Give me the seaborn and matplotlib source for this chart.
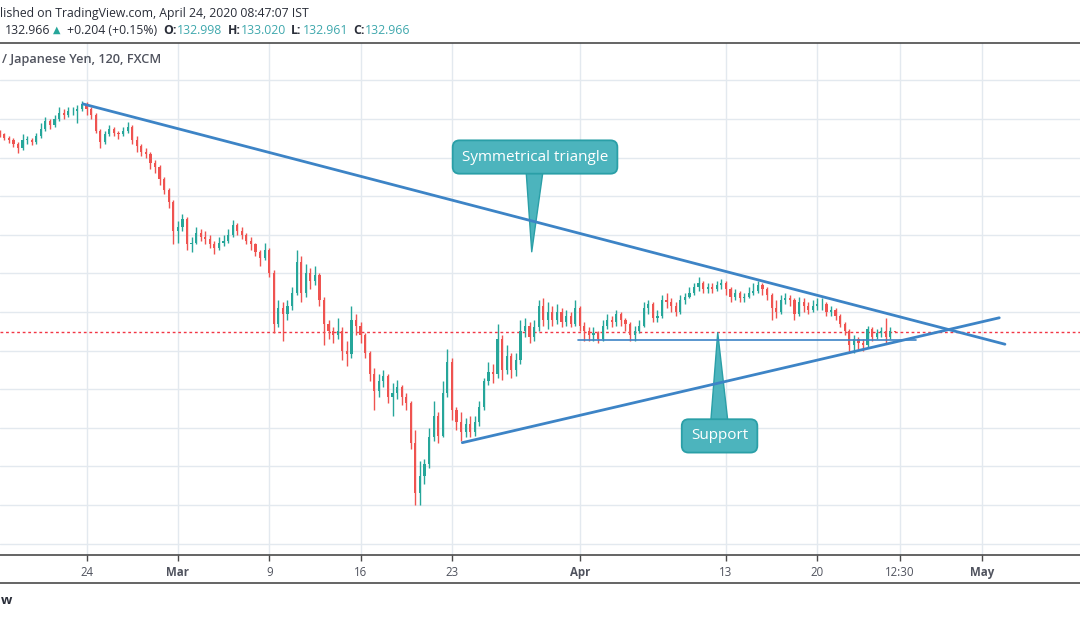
import numpy as np
import matplotlib
matplotlib.use("Agg")
import matplotlib.pyplot as plt
from matplotlib.lines import Line2D
import seaborn as sns

# ---------------- data (GBP/JPY, 6h resolution) ----------------
first_open = 143.3
close = [143.2, 143.0, 142.9, 142.7, 142.5, 142.9, 142.9, 142.8, 143.1, 143.5,
         143.9, 143.7, 144.0, 144.3, 144.2, 144.4, 144.4, 144.5, 144.8, 144.5,
         144.2, 143.4, 142.8, 143.2, 143.5, 143.3, 143.2, 143.4, 143.6, 142.9,
         142.6, 142.3, 142.2, 141.7, 141.5, 140.9, 140.3, 139.7, 138.2, 138.4,
         138.8, 137.5, 137.6, 138.1, 137.9, 137.8, 137.5, 137.3, 137.6, 137.7,
         138.0, 138.5, 138.2, 138.0, 137.7, 137.5, 137.1, 136.8, 137.2, 136.0,
         133.4, 134.2, 133.9, 134.3, 135.0, 136.6, 135.0, 136.0, 135.6, 135.9,
         134.6, 133.4, 133.0, 132.8, 133.0, 132.0, 131.8, 133.6, 133.3, 132.8,
         131.9, 130.8, 129.9, 130.4, 130.7, 129.6, 129.8, 130.1, 129.6, 129.3,
         127.2, 124.6, 125.5, 126.1, 127.5, 128.6, 127.6, 129.8, 131.4, 128.9,
         128.3, 127.8, 128.2, 127.8, 128.3, 129.1, 130.4, 130.9, 130.8, 132.6,
         131.0, 131.7, 131.0, 131.5, 133.0, 133.3, 132.7, 133.2, 134.3, 133.6,
         134.0, 133.6, 134.0, 133.5, 133.8, 133.4, 134.2, 133.3, 133.0, 132.8,
         132.9, 132.6, 133.3, 133.6, 133.5, 133.9, 133.6, 133.4, 132.8, 133.0,
         133.3, 134.2, 134.4, 133.7, 133.8, 134.6, 134.5, 134.3, 134.0, 134.6,
         134.8, 135.0, 135.3, 135.5, 135.2, 135.3, 135.2, 135.4, 135.5, 135.2,
         134.8, 135.0, 134.7, 134.8, 135.0, 135.1, 135.4, 135.2, 134.9, 134.2,
         134.0, 134.6, 134.7, 134.6, 133.9, 134.5, 134.3, 134.1, 134.3, 134.4,
         134.4, 134.0, 134.1, 133.8, 133.4, 133.0, 132.3, 132.6, 132.4, 132.3,
         133.1, 132.7, 132.9, 133.0, 132.7, 133.0, 132.966]
high = [143.45, 143.3, 143.1, 143.0, 142.8, 143.2, 143.1, 143.0, 143.3, 143.8,
        144.1, 144.0, 144.2, 144.6, 144.5, 144.6, 144.6, 144.7, 144.95, 144.9,
        144.6, 144.3, 143.5, 143.4, 143.7, 143.6, 143.4, 143.6, 143.85, 143.7,
        143.1, 142.7, 142.5, 142.3, 141.9, 141.6, 141.0, 140.4, 139.8, 138.7,
        139.1, 138.9, 137.9, 138.4, 138.3, 138.2, 138.0, 137.7, 137.9, 138.0,
        138.3, 138.75, 138.6, 138.4, 138.1, 137.9, 137.6, 137.2, 137.6, 137.3,
        136.2, 134.6, 134.5, 134.6, 135.3, 137.2, 136.9, 136.5, 136.3, 136.4,
        136.0, 134.8, 133.6, 133.2, 133.7, 133.2, 132.5, 134.3, 133.9, 133.5,
        132.9, 132.0, 131.1, 130.8, 131.0, 130.8, 130.3, 130.5, 130.2, 129.8,
        129.4, 127.9, 126.3, 126.4, 128.0, 129.4, 128.8, 130.4, 132.1, 131.6,
        129.1, 128.8, 128.5, 128.6, 128.6, 129.4, 130.6, 131.4, 131.3, 133.4,
        132.8, 132.3, 131.9, 131.9, 133.6, 133.7, 133.5, 133.6, 134.6, 134.7,
        134.5, 134.3, 134.4, 134.2, 134.1, 134.0, 134.6, 134.3, 133.5, 133.2,
        133.2, 133.0, 133.6, 133.9, 133.8, 134.1, 134.0, 133.7, 133.5, 133.3,
        133.6, 134.5, 134.6, 134.5, 134.1, 134.9, 135.0, 134.7, 134.5, 134.9,
        135.0, 135.3, 135.5, 135.8, 135.6, 135.5, 135.5, 135.6, 135.7, 135.6,
        135.3, 135.2, 135.1, 135.0, 135.3, 135.5, 135.6, 135.5, 135.3, 135.0,
        134.6, 134.9, 135.0, 134.9, 134.7, 134.8, 134.7, 134.5, 134.6, 134.7,
        134.7, 134.5, 134.3, 134.2, 133.9, 133.5, 133.1, 132.8, 132.7, 132.6,
        133.3, 133.2, 133.1, 133.2, 133.7, 133.2, 133.02]
low = [143.05, 142.9, 142.75, 142.55, 142.25, 142.4, 142.7, 142.65, 142.7, 143.0,
       143.4, 143.5, 143.6, 143.9, 144.0, 144.1, 144.2, 143.8, 144.4, 144.2,
       144.0, 143.3, 142.5, 142.7, 143.1, 143.1, 142.95, 143.1, 143.3, 142.7,
       142.3, 142.1, 142.0, 141.4, 141.2, 140.6, 140.1, 139.4, 137.5, 137.6,
       138.2, 137.2, 137.1, 137.5, 137.7, 137.5, 137.3, 137.0, 137.2, 137.4,
       137.6, 137.9, 138.0, 137.8, 137.5, 137.2, 136.9, 136.4, 136.7, 135.8,
       132.9, 133.2, 132.5, 133.6, 134.1, 134.9, 134.5, 134.8, 135.2, 135.4,
       134.3, 132.3, 132.6, 132.4, 132.6, 131.5, 131.2, 131.6, 132.8, 132.4,
       131.6, 130.4, 128.9, 129.6, 130.1, 129.3, 128.6, 129.5, 129.2, 128.9,
       126.9, 124.0, 124.0, 125.1, 125.9, 127.3, 127.2, 127.5, 129.6, 128.4,
       127.9, 127.3, 127.5, 127.5, 127.6, 128.1, 128.9, 130.2, 130.3, 130.6,
       130.5, 130.8, 130.6, 130.7, 131.3, 132.7, 132.4, 132.5, 133.0, 133.3,
       133.1, 133.3, 133.4, 133.2, 133.3, 133.2, 133.3, 133.0, 132.5, 132.5,
       132.5, 132.4, 132.5, 133.1, 133.2, 133.3, 133.3, 133.0, 132.5, 132.5,
       132.9, 133.2, 133.9, 133.5, 133.5, 133.7, 134.2, 134.0, 133.8, 133.9,
       134.4, 134.7, 134.9, 135.1, 135.0, 135.0, 135.0, 135.1, 135.2, 134.9,
       134.5, 134.6, 134.5, 134.5, 134.7, 134.9, 135.0, 134.9, 134.6, 133.6,
       133.7, 133.9, 134.4, 134.3, 133.6, 133.8, 134.0, 133.9, 134.0, 134.1,
       134.1, 133.8, 133.8, 133.6, 133.2, 132.8, 131.9, 131.9, 132.1, 132.0,
       132.2, 132.5, 132.6, 132.7, 132.4, 132.6, 132.96]
start_day = -4.75      # trading days relative to Mon 24 Feb 2020
bar_step = 0.25        # 6-hour bars

tick_days = [0, 5, 10, 15, 20, 27, 35, 40, 44.5, 49]
tick_labels = ["24", "Mar", "9", "16", "23", "Apr", "13", "20", "12:30", "May"]
month_labels = ["Mar", "Apr", "May"]

last_price = 132.966
resistance_days = [-0.19, 50.27]
resistance_prices = [144.78, 132.33]
trend_support_days = [20.57, 49.96]
trend_support_prices = [127.23, 133.70]
hsupport_days = [26.92, 45.40]
hsupport_price = 132.55

callout_texts = ["Symmetrical triangle", "Support"]
callout_text_pos = [(24.55, 142.03), (34.65, 127.58)]
callout_tip_pos = [(24.37, 137.12), (34.55, 132.93)]

header_line1 = "lished on TradingView.com, April 24, 2020 08:47:07 IST"
symbol_label = "/ Japanese Yen, 120, FXCM"
quote_parts = [("132.966", "dark", "normal"), ("\u25B2", "up", "normal"),
               ("+0.204 (+0.15%)", "dark", "normal"), ("O:", "dark", "bold"),
               ("132.998", "num", "normal"), ("H:", "dark", "bold"),
               ("133.020", "num", "normal"), ("L:", "dark", "bold"),
               ("132.961", "num", "normal"), ("C:", "dark", "bold"),
               ("132.966", "num", "normal")]
quote_part_x = [5, 53, 67, 163, 177, 228, 241, 291, 303, 353, 365]

# ---------------- style ----------------
sns.set_theme(style="white")
plt.rcParams["font.family"] = ["Open Sans", "DejaVu Sans"]

UP = "#26a69a"
DOWN = "#ef5350"
LINE = "#3d84c6"
GRID = "#e3e9ef"
AXIS = "#4a4a4a"
TXT = "#50535e"
DARK = "#2a2e39"
NUM = "#3fa8ad"
CALL_FC = "#4cb4bd"
CALL_EC = "#2a9fa7"

W, H = 1080, 618
fig = plt.figure(figsize=(W / 100, H / 100), dpi=100)
fig.patch.set_facecolor("white")

pane_top, pane_bot = 43, 554.5
ax = fig.add_axes([0, 1 - pane_bot / H, 1, (pane_bot - pane_top) / H])
ax.set_facecolor("white")

x_left, x_right = (0 - 86.5) / 18.27, (W - 86.5) / 18.27
ax.set_xlim(x_left, x_right)
ax.set_ylim(134 - (pane_bot - 312) / 19.3, 134 + (312 - pane_top) / 19.3)

# candles
o = np.array([first_open] + close[:-1])
c = np.array(close)
hi = np.array(high)
lo = np.array(low)
days = start_day + bar_step * np.arange(len(c))
cols = np.where(c >= o, UP, DOWN)
ax.vlines(days, lo, hi, colors=cols, lw=1.0, zorder=3)
body_bottom = np.minimum(o, c)
body_h = np.maximum(np.abs(c - o), 0.04)
ax.bar(days, body_h, bottom=body_bottom, width=0.12, color=cols,
       edgecolor="none", zorder=3)

# last price dotted line
ax.axhline(last_price, color="#f23645", lw=1.0, ls=(0, (2, 2)), zorder=2.5)

# trend lines (seaborn)
sns.lineplot(x=resistance_days, y=resistance_prices, ax=ax, color=LINE, lw=2.0,
             zorder=5)
sns.lineplot(x=trend_support_days, y=trend_support_prices, ax=ax, color=LINE,
             lw=2.0, zorder=5)
sns.lineplot(x=hsupport_days, y=[hsupport_price, hsupport_price], ax=ax,
             color=LINE, lw=1.2, zorder=5)

# callouts
for txt, tpos, tip in zip(callout_texts, callout_text_pos, callout_tip_pos):
    ax.annotate(txt, xy=tip, xytext=tpos, xycoords="data", textcoords="data",
                ha="center", va="center", color="white", fontsize=11,
                zorder=4,
                bbox=dict(boxstyle="round,pad=0.6,rounding_size=0.45",
                          fc=CALL_FC, ec=CALL_EC, lw=1.3),
                arrowprops=dict(arrowstyle="wedge,tail_width=1.3,shrink_factor=0.5",
                                fc=CALL_FC, ec=CALL_EC, lw=1.0, patchA=None,
                                shrinkA=0, shrinkB=0))

# grid, ticks, spines
ax.set_yticks(np.arange(122, 148, 2))
ax.set_xticks(tick_days)
ax.set_xticklabels(tick_labels)
for lab in ax.get_xticklabels():
    if lab.get_text() in month_labels:
        lab.set_fontweight("bold")
ax.grid(True, color=GRID, lw=1.0, zorder=0)
ax.set_axisbelow(True)
ax.tick_params(axis="y", left=False, labelleft=False, right=False)
ax.tick_params(axis="x", bottom=True, length=4, width=1, color=AXIS, pad=4.5,
               labelsize=8.3, labelcolor=TXT)
for s in ["left", "right"]:
    ax.spines[s].set_visible(False)
for s in ["top", "bottom"]:
    ax.spines[s].set_color(AXIS)
    ax.spines[s].set_linewidth(1.2)
ax.set_xlabel("")
ax.set_ylabel("")

# bottom border of the time axis
fig.add_artist(Line2D([0, 1], [1 - 583 / H, 1 - 583 / H], color=AXIS, lw=1.2,
                      transform=fig.transFigure))

# header texts
def fy(py):
    return 1 - py / H

fig.text(0.5 / W, fy(13), header_line1, ha="left", va="center",
         fontsize=8.8, color=DARK)
colmap = {"dark": DARK, "up": UP, "num": NUM}
for (t, ck, wt), px in zip(quote_parts, quote_part_x):
    fs = 7 if ck == "up" else 8.8
    fig.text(px / W, fy(30), t, ha="left", va="center", fontsize=fs,
             color=colmap[ck], fontweight=wt)
ax.text(2 / W, 1 - (60 - pane_top) / (pane_bot - pane_top), symbol_label,
        transform=ax.transAxes, ha="left", va="center", fontsize=9.2,
        color=TXT, fontweight="semibold")
fig.text(1 / W, fy(601), "w", ha="left", va="center", fontsize=9.5,
         color=DARK, fontweight="bold")

fig.savefig("out.png", dpi=100, facecolor="white")
